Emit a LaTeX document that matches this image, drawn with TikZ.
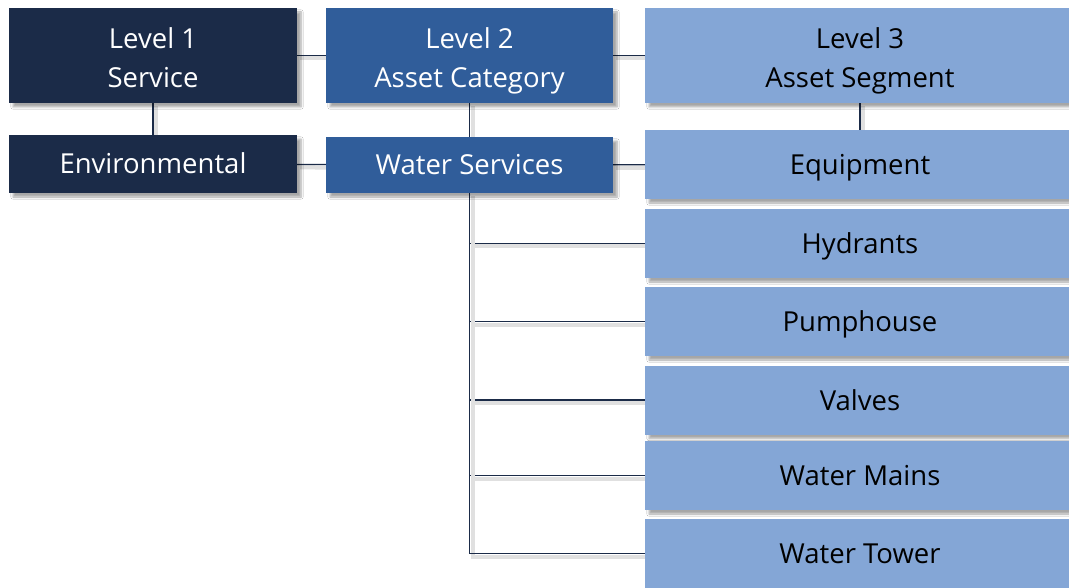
\documentclass[tikz,border=0pt]{standalone}
\usepackage{fontspec}
\setmainfont{Open Sans}
\usetikzlibrary{shadows.blur,backgrounds}
\definecolor{navy}{HTML}{1B2B48}
\definecolor{midblue}{HTML}{305D9A}
\definecolor{lightblue}{HTML}{84A6D6}
\tikzset{
  box/.style={rectangle, inner sep=0pt, align=center,
    font=\fontsize{27.5}{39}\selectfont, text height=26pt, text depth=6pt,
    blur shadow={shadow xshift=4pt, shadow yshift=-4pt, shadow blur steps=6, shadow opacity=35}},
  head/.style={minimum height=95pt, text height=66pt, text depth=2pt},
  lvlone/.style={box, fill=navy, text=white, minimum width=288pt},
  lvltwo/.style={box, fill=midblue, text=white, minimum width=287pt},
  lvlthree/.style={box, fill=lightblue, text=black, minimum width=430pt, minimum height=69pt},
  link/.style={draw=navy, line width=1.2pt,
    preaction={draw=black!12, line width=4pt, transform canvas={shift={(3pt,-3pt)}}}}
}
\begin{document}
\begin{tikzpicture}[x=1pt,y=-1pt]
\useasboundingbox (0,0) rectangle (1069,588);
% header row
\node[lvlone, head] (svc) at (153,55.5) {Level 1\\Service};
\node[lvltwo, head] (cat) at (469.5,55.5) {Level 2\\Asset Category};
\node[lvlthree, head] (seg) at (860,55.5) {Level 3\\Asset Segment};
% second row
\node[lvlone, minimum height=58pt] (env) at (153,164) {Environmental};
\node[lvltwo, minimum height=56pt] (water) at (469.5,165) {Water Services};
% asset segments
\node[lvlthree] (equip) at (860,164.5) {Equipment};
\node[lvlthree] (hyd) at (860,243.5) {Hydrants};
\node[lvlthree] (pump) at (860,321.5) {Pumphouse};
\node[lvlthree] (valve) at (860,400) {Valves};
\node[lvlthree] (mains) at (860,475.5) {Water Mains};
\node[lvlthree] (tower) at (860,553.5) {Water Tower};
% connectors
\begin{scope}[on background layer]
\fill[white] (0,0) rectangle (1069,588);
\draw[link] (svc) -- (cat);
\draw[link] (cat) -- (seg);
\draw[link] (svc) -- (env);
\draw[link] (cat) -- (water);
\draw[link] (seg) -- (equip);
\draw[link] (env) -- (water);
\draw[link] (water) -- (equip);
\foreach \seg in {hyd,pump,valve,mains,tower}
  \draw[link] (water.south) |- (\seg.west);
\end{scope}
\end{tikzpicture}
\end{document}
